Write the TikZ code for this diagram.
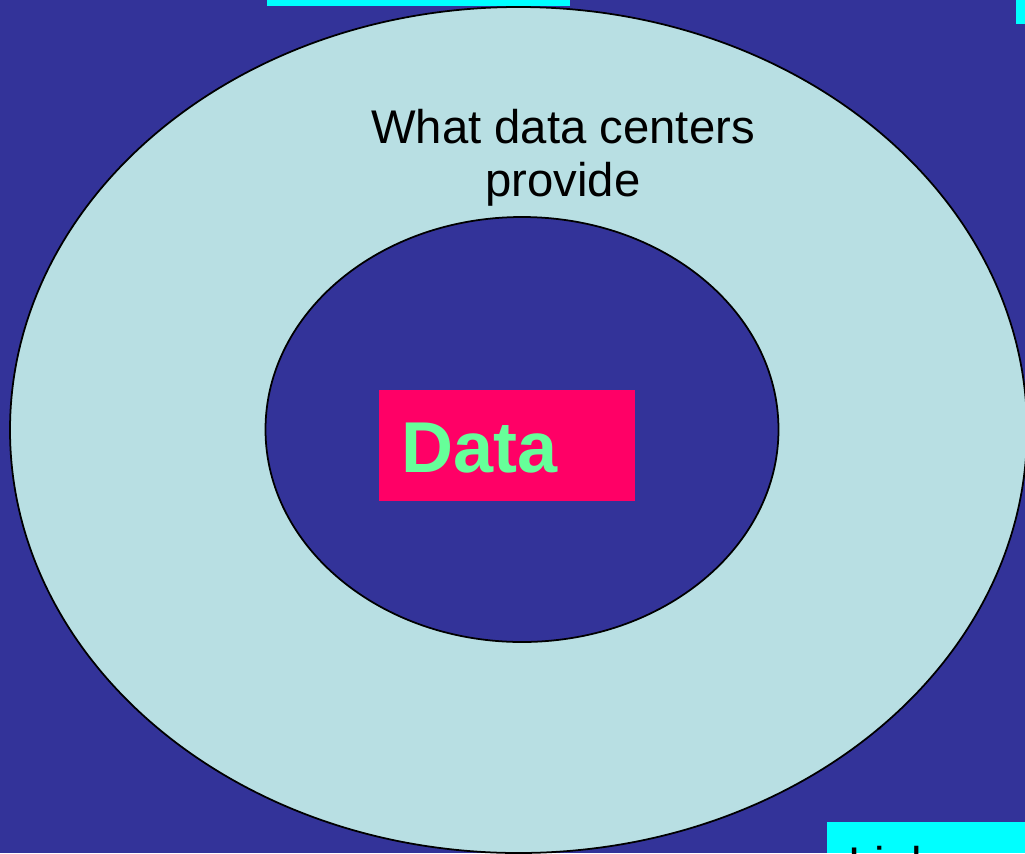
\documentclass[tikz,border=0pt]{standalone}
\usepackage{fontspec}
\setmainfont{Liberation Sans}
\definecolor{slidebg}{HTML}{333399}
\definecolor{ringfill}{HTML}{B8DFE3}
\definecolor{barcyan}{HTML}{00FFFF}
\definecolor{datared}{HTML}{FF0066}
\definecolor{datagreen}{HTML}{66FF99}
\begin{document}
\begin{tikzpicture}[x = 0.02cm, y = -0.02cm,
		ring/.style = {draw = black, line width = 1pt},
		bodytext/.style = {inner sep = 0pt, font = \fontsize{26.9}{30}\selectfont}]
		\useasboundingbox (0, 0) rectangle (1025, 853);
		\clip (0, 0) rectangle (1025, 853);
		\fill[slidebg] (0, 0) rectangle (1025, 853);
		%%%%%%%%% cyan pieces at the edges
		\fill[barcyan] (267, 0) rectangle (570, 6);
		\fill[barcyan] (1016, 0) rectangle (1025, 24);
		\fill[barcyan] (827, 822) rectangle (1025, 853);
		\node[bodytext, anchor = base west] (link) at (848, 880) {Link};
		%%%%%%%%% rings
		\filldraw[ring, fill = ringfill] (518.5, 430) ellipse (508.5 and 423);
		\filldraw[ring, fill = slidebg] (522, 429.5) ellipse (256.5 and 212.5);
		\node[bodytext, align = center] (provide) at (563, 157.5) {What data centers\\provide};
		%%%%%%%%% data box
		\fill[datared] (379, 390) rectangle (635, 501);
		\node[inner sep = 0pt, anchor = base west, text = datagreen,
			font = \fontsize{41}{48}\selectfont\bfseries] (data) at (401, 472) {Data};
	\end{tikzpicture}
\end{document}
